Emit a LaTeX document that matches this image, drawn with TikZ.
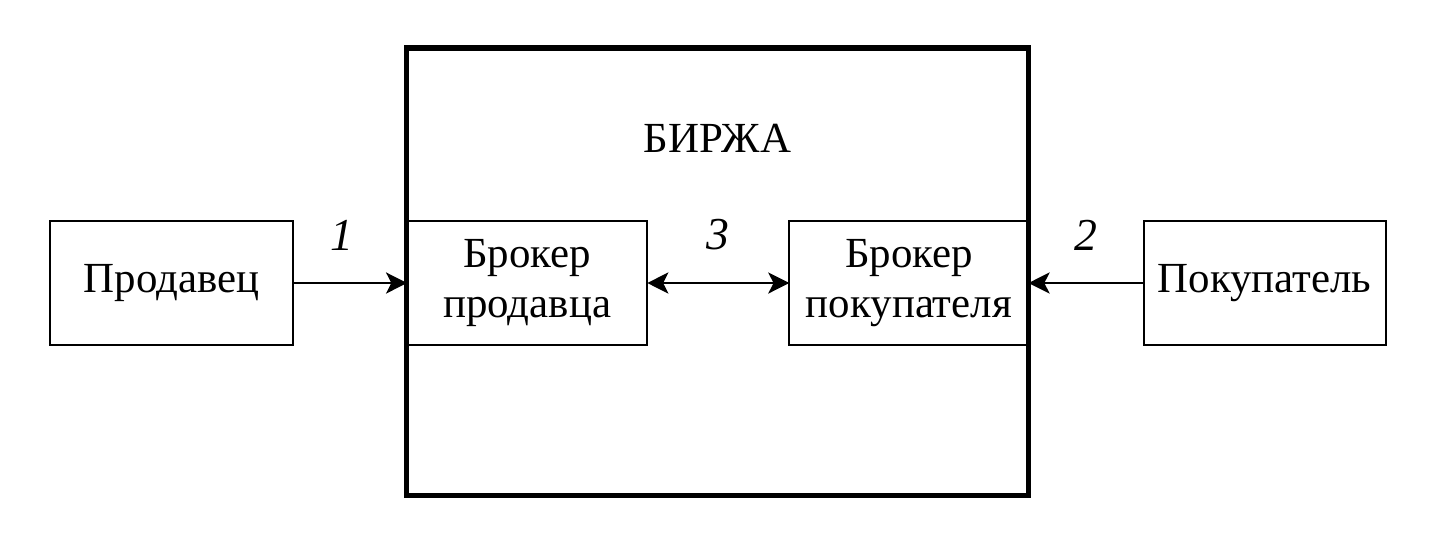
\documentclass[tikz,border=0pt]{standalone}
\usepackage{fontspec}
\setmainfont{Liberation Serif}
\usetikzlibrary{arrows.meta, positioning}

\tikzset{
  party/.style={draw, line width=0.6pt, minimum height=1.24cm, outer sep=0pt,
    align=center, inner sep=1pt},
  link/.style={line width=0.6pt, -{Stealth[length=6pt, width=6pt, inset=1.5pt]}},
  num/.style={font=\fontsize{13}{14}\itshape\selectfont}
}

\begin{document}
\begin{tikzpicture}[x=0.01cm, y=-0.01cm, font=\fontsize{12.2}{14}\selectfont]
  \useasboundingbox (0,0) rectangle (1440,536);

  % exchange frame
  \node [draw, line width=1.5pt, minimum width=6.21cm, minimum height=4.47cm,
    inner sep=0pt] (birzha) at (717.5,271.5) {};
  \node [below=0.66cm of birzha.north] (birzhaname) {БИРЖА};

  \node [party, minimum width=2.43cm] (seller) at (171.5,283) {Продавец};
  \node [party, minimum width=2.40cm, right=1.14cm of seller] (sbroker) {Брокер\\продавца};
  \node [party, minimum width=2.39cm, right=1.42cm of sbroker] (bbroker) {Брокер\\покупателя};
  \node [party, minimum width=2.42cm, right=1.15cm of bbroker] (buyer) {Покупатель};

  \draw [link] (seller) -- node [num, above=0.2cm, xshift=-0.08cm] {1} (sbroker);
  \draw [link, {Stealth[length=6pt, width=6pt, inset=1.5pt]}-{Stealth[length=6pt, width=6pt, inset=1.5pt]}]
    (sbroker) -- node [num, above=0.2cm] {3} (bbroker);
  \draw [link] (buyer) -- node [num, above=0.2cm] {2} (bbroker);
\end{tikzpicture}
\end{document}
